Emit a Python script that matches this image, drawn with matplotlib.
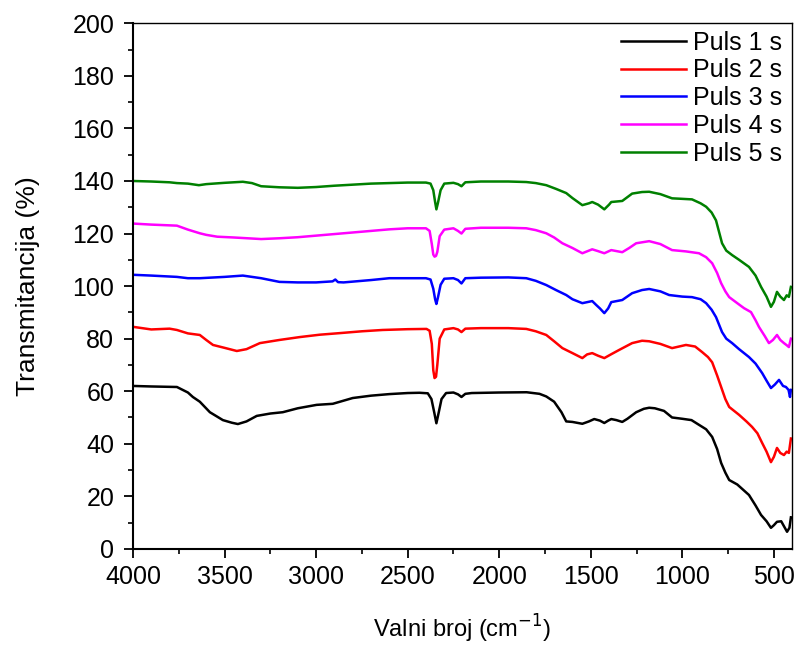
import matplotlib
matplotlib.use('Agg')
import matplotlib.pyplot as plt
from matplotlib.ticker import MultipleLocator

plt.rcParams['font.family'] = ['Liberation Sans', 'DejaVu Sans']

# Puls 1 s
wn_1 = [4000, 3900, 3760, 3700, 3673, 3635, 3580, 3509, 3460, 3427,
        3380, 3324, 3250, 3182, 3100, 2997, 2909, 2800, 2700, 2599,
        2500, 2435, 2390, 2370, 2355, 2343, 2330, 2315, 2290, 2250,
        2225, 2206, 2185, 2150, 2000, 1850, 1780, 1743, 1700, 1660,
        1634, 1600, 1546, 1510, 1481, 1450, 1426, 1405, 1388, 1360,
        1328, 1300, 1252, 1210, 1181, 1150, 1100, 1056, 1000, 950,
        909, 870, 837, 810, 788, 765, 744, 700, 660, 636,
        600, 570, 540, 516, 500, 483, 460, 440, 428, 415,
        407]
t_1 = [62.0, 61.8, 61.6, 59.5, 57.8, 56.0, 52.0, 49.0, 48.0, 47.5,
       48.5, 50.6, 51.5, 52.0, 53.5, 54.8, 55.2, 57.4, 58.3, 58.9,
       59.3, 59.4, 59.2, 57.0, 52.0, 47.8, 52.0, 57.0, 59.3, 59.5,
       58.8, 57.8, 59.0, 59.3, 59.5, 59.6, 59.0, 58.0, 56.0, 52.0,
       48.5, 48.3, 47.6, 48.5, 49.4, 48.8, 47.9, 48.8, 49.4, 49.0,
       48.3, 49.5, 52.0, 53.3, 53.7, 53.5, 52.5, 50.0, 49.5, 49.0,
       47.2, 45.5, 42.6, 38.0, 32.7, 29.0, 26.2, 24.5, 22.0, 20.5,
       16.5, 12.9, 10.5, 8.0, 9.0, 10.3, 10.5, 8.0, 6.5, 8.0,
       12.0]

# Puls 2 s
wn_2 = [4000, 3900, 3800, 3760, 3700, 3635, 3600, 3563, 3500, 3433,
        3380, 3307, 3200, 3089, 2980, 2871, 2750, 2637, 2500, 2397,
        2380, 2368, 2360, 2353, 2345, 2338, 2325, 2300, 2250, 2225,
        2206, 2185, 2100, 1950, 1852, 1800, 1743, 1700, 1655, 1600,
        1546, 1520, 1492, 1460, 1426, 1390, 1345, 1274, 1220, 1181,
        1120, 1056, 980, 930, 892, 860, 837, 810, 788, 765,
        744, 690, 650, 619, 590, 564, 540, 516, 500, 483,
        465, 445, 430, 418, 407]
t_2 = [84.5, 83.5, 83.8, 83.3, 82.0, 81.4, 79.5, 77.6, 76.5, 75.3,
       76.0, 78.3, 79.5, 80.6, 81.5, 82.1, 82.8, 83.3, 83.6, 83.7,
       83.0, 78.0, 68.0, 65.0, 65.5, 70.0, 80.0, 83.5, 84.0, 83.5,
       82.5, 83.8, 84.0, 84.0, 83.7, 82.8, 81.4, 79.0, 76.4, 74.5,
       72.6, 74.0, 74.5, 73.5, 72.6, 74.0, 75.7, 78.3, 79.2, 79.0,
       78.0, 76.4, 77.6, 77.0, 74.9, 73.0, 71.0, 66.0, 61.6, 57.0,
       54.0, 51.0, 48.5, 46.4, 44.0, 40.3, 37.0, 33.0, 35.0, 38.4,
       36.5, 35.7, 37.0, 36.5, 42.0]

# Puls 3 s
wn_3 = [4000, 3900, 3760, 3700, 3635, 3500, 3400, 3300, 3200, 3100,
        3000, 2910, 2895, 2880, 2850, 2700, 2600, 2400, 2375, 2360,
        2350, 2343, 2335, 2320, 2300, 2250, 2225, 2206, 2185, 2100,
        1950, 1852, 1800, 1743, 1690, 1634, 1600, 1546, 1492, 1470,
        1450, 1426, 1405, 1388, 1328, 1274, 1220, 1181, 1120, 1072,
        1000, 947, 900, 870, 840, 816, 783, 760, 728, 690,
        636, 600, 564, 540, 516, 495, 472, 450, 434, 420,
        412, 407]
t_3 = [104.3, 104.0, 103.5, 103.0, 103.0, 103.5, 104.0, 103.0, 101.6, 101.4,
       101.4, 101.8, 102.5, 101.5, 101.4, 102.3, 103.0, 103.0, 102.5, 99.0,
       95.0, 93.2, 95.5, 100.5, 102.8, 103.0, 102.3, 101.0, 103.0, 103.2,
       103.3, 103.0, 102.0, 100.4, 98.5, 96.6, 95.0, 93.5, 94.3, 92.8,
       91.5, 89.7, 91.5, 93.9, 94.7, 97.3, 98.5, 98.9, 98.0, 96.6,
       96.0, 95.8, 95.0, 93.5, 91.0, 88.2, 82.5, 80.0, 78.3, 76.0,
       73.0, 70.5, 66.9, 64.0, 61.2, 62.5, 64.3, 62.0, 61.6, 60.5,
       57.8, 60.5]

# Puls 4 s
wn_4 = [4000, 3900, 3760, 3700, 3635, 3600, 3540, 3450, 3300, 3200,
        3100, 3000, 2900, 2800, 2700, 2600, 2500, 2400, 2380, 2368,
        2360, 2353, 2345, 2338, 2325, 2300, 2250, 2225, 2206, 2185,
        2100, 1950, 1852, 1800, 1743, 1700, 1655, 1600, 1546, 1492,
        1460, 1426, 1388, 1328, 1290, 1252, 1181, 1120, 1056, 980,
        909, 870, 837, 810, 788, 765, 744, 700, 663, 625,
        600, 581, 550, 527, 505, 483, 465, 445, 430, 418,
        407]
t_4 = [123.8, 123.4, 123.0, 121.5, 120.1, 119.5, 118.8, 118.5, 117.9, 118.2,
       118.6, 119.2, 119.8, 120.4, 121.0, 121.6, 122.0, 122.0, 121.0, 116.0,
       112.0, 111.2, 111.5, 113.0, 119.0, 121.5, 122.0, 121.0, 120.0, 121.8,
       122.2, 122.2, 122.0, 121.3, 120.1, 118.5, 116.3, 114.5, 112.5, 114.0,
       113.3, 112.5, 113.7, 112.9, 114.5, 116.3, 117.1, 116.0, 113.7, 113.2,
       112.5, 111.0, 108.7, 105.0, 101.1, 98.0, 95.8, 93.5, 91.6, 90.1,
       87.0, 84.4, 81.0, 78.3, 79.5, 81.4, 79.5, 78.3, 77.5, 76.8,
       80.0]

# Puls 5 s
wn_5 = [4000, 3900, 3800, 3760, 3700, 3640, 3600, 3500, 3400, 3350,
        3300, 3200, 3100, 3000, 2900, 2800, 2700, 2500, 2400, 2375,
        2360, 2350, 2343, 2335, 2320, 2300, 2250, 2225, 2206, 2185,
        2100, 1950, 1852, 1800, 1743, 1690, 1634, 1600, 1546, 1510,
        1492, 1460, 1426, 1400, 1388, 1328, 1274, 1220, 1181, 1120,
        1056, 1000, 947, 900, 870, 840, 816, 783, 760, 728,
        690, 636, 600, 570, 540, 516, 500, 483, 465, 445,
        430, 418, 407]
t_5 = [140.0, 139.8, 139.5, 139.2, 139.0, 138.4, 138.8, 139.3, 139.7, 139.2,
       138.0, 137.6, 137.4, 137.7, 138.2, 138.6, 139.0, 139.4, 139.4, 139.0,
       136.5, 132.0, 129.2, 131.5, 136.5, 139.0, 139.3, 138.8, 138.0, 139.5,
       139.8, 139.8, 139.6, 139.2, 138.4, 137.0, 135.4, 133.5, 130.8, 131.5,
       132.0, 131.0, 129.2, 131.0, 132.0, 132.4, 135.2, 135.8, 135.9, 135.0,
       133.4, 133.2, 133.0, 131.5, 130.2, 128.0, 125.0, 116.3, 113.5, 111.8,
       110.0, 107.3, 104.0, 99.7, 96.0, 92.1, 94.0, 97.8, 96.0, 94.7,
       96.5, 95.9, 99.7]

labels = ['Puls 1 s', 'Puls 2 s', 'Puls 3 s', 'Puls 4 s', 'Puls 5 s']
colors = ['black', '#FF0000', '#0000FF', '#FF00FF', '#008000']
series = [(wn_1, t_1), (wn_2, t_2), (wn_3, t_3), (wn_4, t_4), (wn_5, t_5)]

fig = plt.figure(figsize=(8.01, 6.48), dpi=100)
ax = fig.add_axes([0.166, 0.153, 0.823, 0.811])

for (wn, t), lab, col in zip(series, labels, colors):
    ax.plot(wn, t, color=col, lw=1.8, label=lab)

ax.set_xlim(4000, 400)
ax.set_ylim(0, 200)
ax.xaxis.set_major_locator(MultipleLocator(500))
ax.xaxis.set_minor_locator(MultipleLocator(250))
ax.yaxis.set_major_locator(MultipleLocator(20))
ax.yaxis.set_minor_locator(MultipleLocator(10))

for s in ['left', 'bottom']:
    ax.spines[s].set_linewidth(1.5)
for s in ['top', 'right']:
    ax.spines[s].set_linewidth(1.0)

ax.tick_params(which='major', direction='out', length=6.5, width=1.3, labelsize=18,
               top=False, right=False)
ax.tick_params(axis='y', which='major', pad=7)
ax.tick_params(axis='x', which='major', pad=5)
ax.tick_params(which='minor', direction='out', length=3.6, width=1.2,
               top=False, right=False)

ax.set_xlabel('Valni broj (cm$^{-1}$)', fontsize=17, labelpad=17)
ax.set_ylabel('Transmitancija (%)', fontsize=19, labelpad=23)

ax.legend(loc='upper right', frameon=False, fontsize=18, handlelength=2.6,
          handletextpad=0.3, labelspacing=0.15, borderaxespad=0.0,
          bbox_to_anchor=(1.0, 1.005))

fig.savefig('out.png', dpi=100)
